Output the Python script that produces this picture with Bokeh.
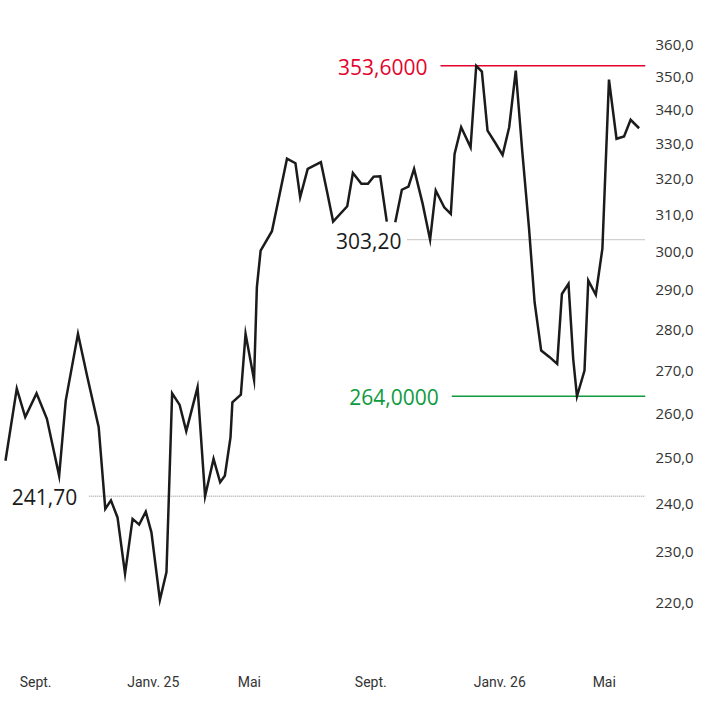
import math
import pandas as pd
from bokeh.plotting import figure
from bokeh.models import ColumnDataSource, FixedTicker, Range1d
from bokeh.core.properties import value
from bokeh.embed import file_html
from bokeh.resources import INLINE

# ---------------- data ----------------
DATES = [
    "2024-08-03", "2024-08-15", "2024-08-24", "2024-09-05", "2024-09-16", "2024-09-29", "2024-10-06", "2024-10-19", "2024-10-29", "2024-11-10",
    "2024-11-17", "2024-11-23", "2024-11-30", "2024-12-08", "2024-12-16", "2024-12-23", "2024-12-30", "2025-01-05", "2025-01-14", "2025-01-21",
    "2025-01-27", "2025-02-04", "2025-02-11", "2025-02-23", "2025-03-03", "2025-03-12", "2025-03-19", "2025-03-24", "2025-03-30", "2025-04-01",
    "2025-04-10", "2025-04-15", "2025-04-24", "2025-04-27", "2025-05-01", "2025-05-13", "2025-05-29", "2025-06-07", "2025-06-12", "2025-06-20",
    "2025-07-04", "2025-07-11", "2025-07-17", "2025-08-01", "2025-08-07", "2025-08-16", "2025-08-23", "2025-08-29", "2025-09-05", "2025-09-12",
    "2025-09-16",
    "2025-09-21", "2025-09-28", "2025-10-05", "2025-10-11", "2025-10-20", "2025-10-28", "2025-11-03", "2025-11-12", "2025-11-19", "2025-11-23",
    "2025-11-30", "2025-12-10", "2025-12-16", "2025-12-22", "2025-12-28", "2026-01-05", "2026-01-13", "2026-01-20", "2026-01-27", "2026-02-03",
    "2026-02-10", "2026-02-16", "2026-02-23", "2026-03-04", "2026-03-12", "2026-03-17", "2026-03-24", "2026-03-29", "2026-04-02", "2026-04-10",
    "2026-04-14", "2026-04-22", "2026-04-29", "2026-05-06", "2026-05-14", "2026-05-22", "2026-05-29", "2026-06-07",
]
PRICE = [
    249.4, 265.8, 259.2, 264.7, 258.8, 246.1, 263.0, 279.0, 268.5, 256.9,
    239.0, 240.8, 237.2, 225.7, 236.9, 235.7, 238.4, 234.1, 220.5, 226.0,
    264.7, 262.0, 256.0, 266.1, 241.7, 249.8, 244.7, 246.1, 254.6, 262.6,
    264.4, 279.0, 267.9, 290.7, 300.3, 305.5, 325.7, 324.4, 314.8, 322.8,
    324.7, 315.8, 308.1, 312.3, 321.6, 318.6, 318.6, 320.6, 320.7, 308.1,
    float("nan"),
    307.9, 316.9, 317.8, 322.8, 313.1, 303.2, 316.7, 312.0, 310.2, 327.1,
    334.9, 329.0, 353.6, 351.8, 333.9, 330.4, 326.8, 334.9, 352.1, 327.5,
    306.5, 286.9, 274.9, 273.3, 271.7, 289.0, 291.6, 272.9, 264.0, 270.1,
    292.5, 288.8, 300.8, 349.3, 331.5, 332.2, 337.1, 334.6,
]

HIGH_LEVEL = 353.6
HIGH_LABEL = "353,6000"
HIGH_FROM = "2025-11-08"
LOW_LEVEL = 264.0
LOW_LABEL = "264,0000"
LOW_FROM = "2025-11-20"

REF_LEVELS = [241.70, 303.20]
REF_LABELS = ["241,70", "303,20"]
REF_FROM = ["2024-10-31", "2025-10-04"]

Y_TICKS = [220, 230, 240, 250, 260, 270, 280, 290, 300, 310, 320, 330, 340, 350, 360]
X_TICK_DATES = ["2024-09-04", "2025-01-07", "2025-04-19", "2025-08-26", "2026-01-10", "2026-05-01"]
X_TICK_LABELS = ["Sept.", "Janv. 25", "Mai", "Sept.", "Janv. 26", "Mai"]

X_START = "2024-07-28 17:00"
X_END = "2026-06-13 19:00"
Y_START, Y_END = 208.1, 374.6

# ---------------- styles ----------------
RED = "#E4032E"
GREEN = "#0E9A3E"
INK = "#1b1b1b"
TICK_COLOR = "#333333"
NUM_FONT = "Open Sans"
AX_FONT = "Roboto"

def ms(d):
    return pd.Timestamp(d).value // 10**6

x_start = pd.Timestamp(X_START)
x_end = pd.Timestamp(X_END)

p = figure(
    width=706, height=705,
    x_axis_type="datetime", y_axis_type="log", y_axis_location="right",
    x_range=Range1d(x_start, x_end), y_range=Range1d(Y_START, Y_END),
    output_backend="svg", toolbar_location=None,
    min_border_left=0, min_border_right=61, min_border_top=0, min_border_bottom=40,
)
p.outline_line_color = None
p.background_fill_color = "white"
p.border_fill_color = "white"
p.xgrid.grid_line_color = None
p.ygrid.grid_line_color = None

# reference dotted lines
ref_src = ColumnDataSource(dict(
    x0=pd.to_datetime(REF_FROM), x1=[x_end] * len(REF_FROM),
    y=REF_LEVELS, label=REF_LABELS,
))
p.segment(x0="x0", y0="y", x1="x1", y1="y", source=ref_src,
          line_color="#8a8a8a", line_width=1, line_dash="1 1")

# high / low lines
hl_src = ColumnDataSource(dict(
    x0=pd.to_datetime([HIGH_FROM, LOW_FROM]), x1=[x_end, x_end],
    y=[HIGH_LEVEL, LOW_LEVEL], label=[HIGH_LABEL, LOW_LABEL], color=[RED, GREEN],
))
p.segment(x0="x0", y0="y", x1="x1", y1="y", source=hl_src,
          line_color="color", line_width=1.5)

# price line
src = ColumnDataSource(dict(x=pd.to_datetime(DATES), y=PRICE))
p.line("x", "y", source=src, line_color=INK, line_width=2.5, line_join="miter")

# labels
p.text(x="x0", y="y", text="label", source=hl_src, text_color="color",
       text_align="right", text_baseline="middle", x_offset=-13, y_offset=1,
       text_font=value(NUM_FONT), text_font_size="21px", text_font_style="normal")
ref_lab = ColumnDataSource(dict(x=pd.to_datetime(REF_FROM), y=REF_LEVELS,
                                label=REF_LABELS, off=[-12, -6]))
p.text(x="x", y="y", text="label", source=ref_lab, text_color="#1b1b1b",
       text_align="right", text_baseline="middle", x_offset="off", y_offset=1,
       text_font=value(NUM_FONT), text_font_size="21px", text_font_style="normal")

# axes
xa = p.xaxis[0]
xa.ticker = FixedTicker(ticks=[ms(d) for d in X_TICK_DATES])
xa.major_label_overrides = {ms(d): lab for d, lab in zip(X_TICK_DATES, X_TICK_LABELS)}
xa.axis_line_color = None
xa.major_tick_line_color = None
xa.minor_tick_line_color = None
xa.major_tick_out = 0
xa.major_label_standoff = 8
xa.major_label_text_font = AX_FONT
xa.major_label_text_font_size = "14px"
xa.major_label_text_color = TICK_COLOR

ya = p.yaxis[0]
ya.ticker = FixedTicker(ticks=Y_TICKS)
ya.major_label_overrides = {t: f"{t:.1f}".replace(".", ",") for t in Y_TICKS}
ya.axis_line_color = None
ya.major_tick_line_color = None
ya.minor_tick_line_color = None
ya.major_tick_out = 0
ya.major_label_standoff = 10
ya.major_label_text_font = NUM_FONT
ya.major_label_text_font_size = "15px"
ya.major_label_text_color = TICK_COLOR

open("out.html", "w").write(file_html(p, INLINE))
